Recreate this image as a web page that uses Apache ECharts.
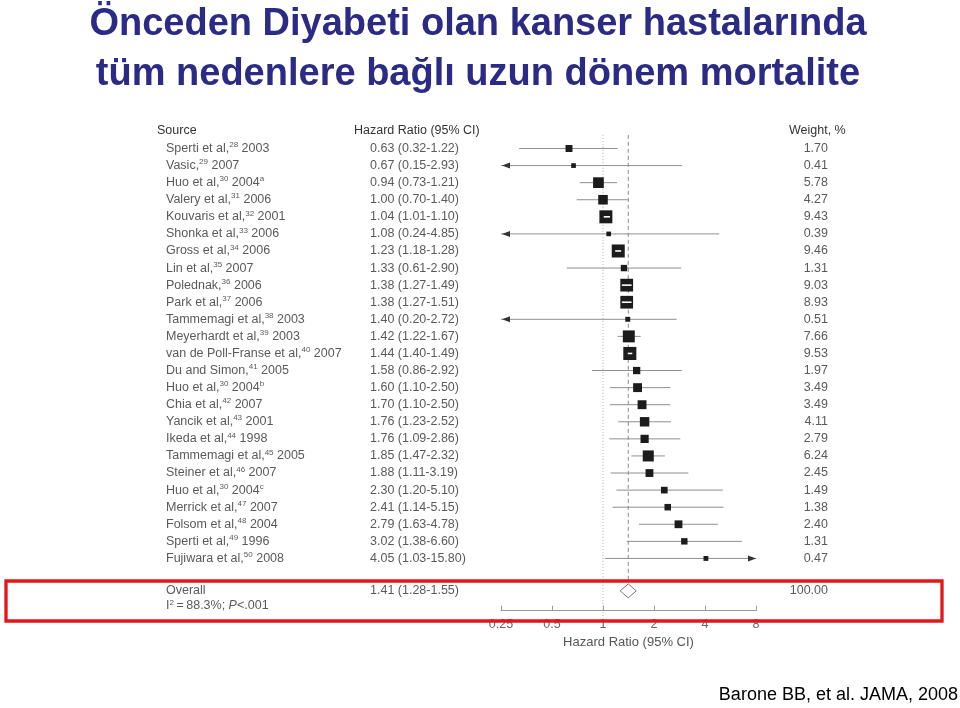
<!DOCTYPE html>
<html><head><meta charset="utf-8">
<script src="https://cdn.jsdelivr.net/npm/echarts@6/dist/echarts.min.js"></script>
<style>html,body{margin:0;padding:0;background:#fff}#c{width:960px;height:708px}</style>
</head><body><div id="c"></div>
<script>
// ---- data ----
const studyNames = ['Sperti et al,', 'Vasic,', 'Huo et al,', 'Valery et al,', 'Kouvaris et al,', 'Shonka et al,', 'Gross et al,', 'Lin et al,', 'Polednak,', 'Park et al,', 'Tammemagi et al,', 'Meyerhardt et al,', 'van de Poll-Franse et al,', 'Du and Simon,', 'Huo et al,', 'Chia et al,', 'Yancik et al,', 'Ikeda et al,', 'Tammemagi et al,', 'Steiner et al,', 'Huo et al,', 'Merrick et al,', 'Folsom et al,', 'Sperti et al,', 'Fujiwara et al,'];
const refNums = [28, 29, 30, 31, 32, 33, 34, 35, 36, 37, 38, 39, 40, 41, 30, 42, 43, 44, 45, 46, 30, 47, 48, 49, 50];
const years = ['2003', '2007', '2004', '2006', '2001', '2006', '2006', '2007', '2006', '2006', '2003', '2003', '2007', '2005', '2004', '2007', '2001', '1998', '2005', '2007', '2004', '2007', '2004', '1996', '2008'];
const yearNotes = ['', '', 'a', '', '', '', '', '', '', '', '', '', '', '', 'b', '', '', '', '', '', 'c', '', '', '', ''];
const hazardRatios = [0.63, 0.67, 0.94, 1.00, 1.04, 1.08, 1.23, 1.33, 1.38, 1.38, 1.40, 1.42, 1.44, 1.58, 1.60, 1.70, 1.76, 1.76, 1.85, 1.88, 2.30, 2.41, 2.79, 3.02, 4.05];
const ciLower = [0.32, 0.15, 0.73, 0.70, 1.01, 0.24, 1.18, 0.61, 1.27, 1.27, 0.20, 1.22, 1.40, 0.86, 1.10, 1.10, 1.23, 1.09, 1.47, 1.11, 1.20, 1.14, 1.63, 1.38, 1.03];
const ciUpper = [1.22, 2.93, 1.21, 1.40, 1.10, 4.85, 1.28, 2.90, 1.49, 1.51, 2.72, 1.67, 1.49, 2.92, 2.50, 2.50, 2.52, 2.86, 2.32, 3.19, 5.10, 5.15, 4.78, 6.60, 15.80];
const weights = [1.70, 0.41, 5.78, 4.27, 9.43, 0.39, 9.46, 1.31, 9.03, 8.93, 0.51, 7.66, 9.53, 1.97, 3.49, 3.49, 4.11, 2.79, 6.24, 2.45, 1.49, 1.38, 2.40, 1.31, 0.47];
const overallLabel = 'Overall';
const overallHR = 1.41, overallLower = 1.28, overallUpper = 1.55, overallWeight = 100.00;
const overallI2 = '88.3%', overallP = '<.001';
const xTicks = [0.25, 0.5, 1, 2, 4, 8];
const columnHeaders = ['Source', 'Hazard Ratio (95% CI)', 'Weight, %'];
const axisTitle = 'Hazard Ratio (95% CI)';
const titleLines = ['Önceden Diyabeti olan kanser hastalarında', 'tüm nedenlere bağlı uzun dönem mortalite'];
const citation = 'Barone BB, et al. JAMA, 2008';

// ---- layout ----
const AX_MIN = xTicks[0], AX_MAX = xTicks[xTicks.length - 1];
const OVERALL_ROW = 25.9, STAT_ROW = 26.78;
const COL_SRC = 166, COL_HR = 370, COL_W = 828;
const FONT = '"Liberation Sans", Arial, Helvetica, sans-serif';
const TXT = '#5a5a5a';
const fmt = v => v.toFixed(2);
const richStyles = {
  sup: { fontSize: 8, lineHeight: 9, verticalAlign: 'top', fill: TXT, fontFamily: FONT },
  it: { fontStyle: 'italic', fontSize: 12.5, lineHeight: 15, fill: TXT, fontFamily: FONT },
  n: { fontSize: 12.5, lineHeight: 15, fill: TXT, fontFamily: FONT }
};

const studyData = hazardRatios.map((hr, i) => [hr, ciLower[i], ciUpper[i], weights[i], i]);

function textEl(x, y, text, align, rich) {
  return {
    type: 'text', silent: true,
    style: {
      x: x, y: y, text: text, fill: TXT, fontSize: 12.5, fontFamily: FONT,
      align: align, textAlign: align, verticalAlign: 'middle', textVerticalAlign: 'middle',
      rich: rich ? richStyles : undefined
    }
  };
}

function renderStudy(params, api) {
  const i = params.dataIndex;
  const hr = api.value(0), lo = api.value(1), hi = api.value(2), w = api.value(3), row = api.value(4);
  const c = api.coord([hr, row]);
  const cx = c[0], y = c[1];
  const xMin = api.coord([AX_MIN, row])[0], xMax = api.coord([AX_MAX, row])[0];
  const xl = lo < AX_MIN ? xMin : api.coord([lo, row])[0];
  const xr = hi > AX_MAX ? xMax : api.coord([hi, row])[0];
  const s = 2.5 + 3.42 * Math.sqrt(w);
  const kids = [];
  const src = '{n|' + studyNames[i] + '}{sup|' + refNums[i] + '}{n| ' + years[i] + '}' + (yearNotes[i] ? '{sup|' + yearNotes[i] + '}' : '');
  kids.push(textEl(COL_SRC, y, src, 'left', true));
  kids.push(textEl(COL_HR, y, fmt(hr) + ' (' + fmt(lo) + '-' + fmt(hi) + ')', 'left'));
  kids.push(textEl(COL_W, y, fmt(w), 'right'));
  kids.push({ type: 'line', silent: true, shape: { x1: xl, y1: y, x2: xr, y2: y }, style: { stroke: '#8f8f8f', lineWidth: 1 } });
  if (lo < AX_MIN) kids.push({ type: 'polygon', silent: true, shape: { points: [[xMin + 1, y], [xMin + 9, y - 3], [xMin + 9, y + 3]] }, style: { fill: '#333' } });
  if (hi > AX_MAX) kids.push({ type: 'polygon', silent: true, shape: { points: [[xMax, y], [xMax - 8, y - 3], [xMax - 8, y + 3]] }, style: { fill: '#333' } });
  kids.push({ type: 'rect', silent: true, shape: { x: cx - s / 2, y: y - s / 2, width: s, height: s }, style: { fill: '#1c1c1c' } });
  if (xl >= cx - s / 2 - 1 && xr <= cx + s / 2 + 1) {
    kids.push({ type: 'line', silent: true, shape: { x1: Math.max(xl, cx - s / 2 + 1.5), y1: y, x2: Math.min(xr, cx + s / 2 - 1.5), y2: y }, style: { stroke: '#fff', lineWidth: 1.6 } });
  }
  return { type: 'group', children: kids };
}

function renderOverall(params, api) {
  const hr = api.value(0), lo = api.value(1), hi = api.value(2), w = api.value(3), row = api.value(4);
  const c = api.coord([hr, row]);
  const y = c[1];
  const xl = api.coord([lo, row])[0] - 1, xr = api.coord([hi, row])[0] + 1;
  const ys = api.coord([hr, STAT_ROW])[1];
  return {
    type: 'group', children: [
      textEl(COL_SRC, y, overallLabel, 'left'),
      textEl(COL_SRC, ys, '{n|I}{sup|2}{n|\u2009=\u2009' + overallI2 + '; }{it|P}{n|' + overallP + '}', 'left', true),
      textEl(COL_HR, y, fmt(hr) + ' (' + fmt(lo) + '-' + fmt(hi) + ')', 'left'),
      textEl(COL_W, y, fmt(w), 'right'),
      { type: 'polygon', silent: true, shape: { points: [[xl, y], [c[0], y - 7], [xr, y], [c[0], y + 7]] }, style: { fill: '#fff', stroke: '#777', lineWidth: 1 } }
    ]
  };
}

function renderRef(params, api) {
  const x = api.value(0);
  const p1 = api.coord([x, api.value(1)]), p2 = api.coord([x, api.value(2)]);
  const dashed = api.value(3) === 1;
  return {
    type: 'line', silent: true,
    shape: { x1: p1[0], y1: p1[1], x2: p2[0], y2: p2[1] },
    style: { stroke: dashed ? '#8a8a8a' : '#aaa', lineWidth: 1, lineDash: dashed ? [4, 3] : [1, 2] }
  };
}

const chart = echarts.init(document.getElementById('c'), null, { renderer: 'canvas' });
chart.setOption({
  animation: false,
  backgroundColor: '#fff',
  title: {
    text: titleLines.join('\n'), left: 478, textAlign: 'center', top: 0, padding: 0,
    textStyle: { color: '#2b2b86', fontSize: 38, fontWeight: 'bold', fontFamily: FONT, lineHeight: 50 }
  },
  grid: { left: 501, width: 255, top: 128, height: 482.7 },
  xAxis: {
    type: 'log', logBase: 2, min: AX_MIN, max: AX_MAX, splitNumber: 5, position: 'bottom',
    axisLine: { onZero: false, lineStyle: { color: '#999', width: 1 } },
    axisTick: { inside: true, length: 5, lineStyle: { color: '#999' } },
    axisLabel: { color: '#666', fontSize: 12.5, fontFamily: FONT, margin: 7, formatter: v => String(+(+v).toPrecision(3)) },
    splitLine: { show: false },
    name: axisTitle, nameLocation: 'middle', nameGap: 24,
    nameTextStyle: { color: '#555', fontSize: 13, fontFamily: FONT }
  },
  yAxis: { type: 'value', inverse: true, min: -1.2, max: 27.06, show: false },
  series: [
    { type: 'custom', name: 'ref', clip: false, renderItem: renderRef, data: [[1, -0.8, 27.4, 0], [overallHR, -0.8, OVERALL_ROW - 0.45, 1]], z: 1 },
    { type: 'custom', name: 'studies', clip: false, renderItem: renderStudy, data: studyData, z: 2 },
    { type: 'custom', name: 'overall', clip: false, renderItem: renderOverall, data: [[overallHR, overallLower, overallUpper, overallWeight, OVERALL_ROW]], z: 3 }
  ],
  graphic: [
    { type: 'text', left: 157, top: 124, style: { text: columnHeaders[0], fill: '#333', fontSize: 12.5, fontFamily: FONT } },
    { type: 'text', left: 354, top: 124, style: { text: columnHeaders[1], fill: '#333', fontSize: 12.5, fontFamily: FONT } },
    { type: 'text', left: 789, top: 124, style: { text: columnHeaders[2], fill: '#333', fontSize: 12.5, fontFamily: FONT } },
    { type: 'rect', left: 3.5, top: 578.5, shape: { width: 936, height: 40 }, style: { fill: 'none', stroke: '#e3161b', lineWidth: 3.3 }, z: 10 },
    { type: 'text', right: 2, top: 686, style: { text: citation, fill: '#000', fontSize: 18, fontFamily: FONT } }
  ]
});
</script></body></html>
